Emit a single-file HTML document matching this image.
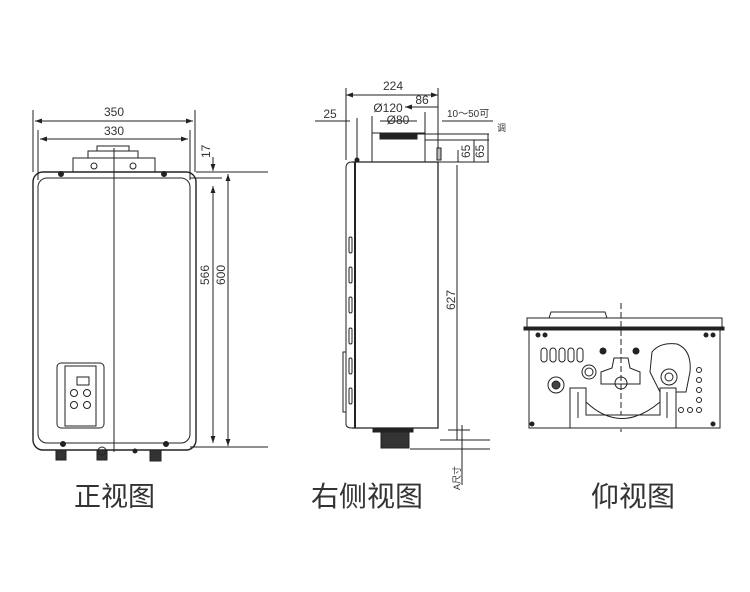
<!DOCTYPE html>
<html><head><meta charset="utf-8"><style>
body{margin:0;background:#fff;width:750px;height:592px;overflow:hidden}
svg{display:block}
text{font-family:"Liberation Sans","Noto Sans CJK SC",sans-serif;fill:#333}
</style></head><body>
<svg width="750" height="592" viewBox="0 0 750 592" stroke="#222" fill="none" stroke-width="1">
<defs><marker id="a" viewBox="0 0 10 10" refX="10" refY="5" markerWidth="7" markerHeight="7" orient="auto-start-reverse"><path d="M0,1.5L10,5L0,8.5z" fill="#222" stroke="none"/></marker></defs>
<!-- FRONT VIEW -->
<line x1="33" y1="110" x2="33" y2="172"/><line x1="195" y1="110" x2="195" y2="172"/>
<line x1="38" y1="130" x2="38" y2="180"/><line x1="190" y1="130" x2="190" y2="180"/>
<line x1="35" y1="121" x2="193" y2="121" marker-start="url(#a)" marker-end="url(#a)"/>
<line x1="40" y1="139" x2="188" y2="139" marker-start="url(#a)" marker-end="url(#a)"/>
<text x="114" y="116" font-size="12" text-anchor="middle" stroke="none">350</text>
<text x="114" y="135" font-size="12" text-anchor="middle" stroke="none">330</text>
<rect x="33" y="172" width="163" height="278" rx="10" stroke-width="1.4"/>
<rect x="38" y="178" width="152" height="265" rx="9"/>
<line x1="114" y1="148" x2="114" y2="452"/>
<rect x="73" y="158" width="82" height="14"/><rect x="88" y="151" width="50" height="7"/><rect x="97" y="146" width="32" height="5"/>
<circle cx="94" cy="166" r="3"/><circle cx="133" cy="166" r="3"/>
<circle cx="61" cy="174" r="2.5" fill="#222"/><circle cx="164" cy="174" r="2.5" fill="#222"/>
<line x1="196" y1="172" x2="268" y2="172"/><line x1="190" y1="178" x2="222" y2="178"/><line x1="190" y1="447" x2="268" y2="447"/>
<line x1="213" y1="157" x2="213" y2="171" marker-end="url(#a)"/>
<text transform="translate(210,158) rotate(-90)" font-size="12" stroke="none">17</text>
<line x1="213" y1="186" x2="213" y2="443" marker-start="url(#a)" marker-end="url(#a)"/>
<line x1="228" y1="174" x2="228" y2="446" marker-start="url(#a)" marker-end="url(#a)"/>
<text transform="translate(209,285) rotate(-90)" font-size="12" stroke="none">566</text>
<text transform="translate(225,285) rotate(-90)" font-size="12" stroke="none">600</text>
<rect x="57" y="363" width="47" height="65" rx="4"/><rect x="65" y="366" width="31" height="60"/>
<rect x="77" y="377" width="12" height="8"/>
<circle cx="74" cy="393" r="3.5"/><circle cx="87" cy="393" r="3.5"/><circle cx="74" cy="405" r="3.5"/><circle cx="87" cy="405" r="3.5"/>
<circle cx="63" cy="444" r="2.5" fill="#222"/><circle cx="166" cy="444" r="2.5" fill="#222"/>
<rect x="56" y="450" width="10" height="10" fill="#333"/><rect x="97" y="450" width="10" height="10" fill="#333"/><circle cx="102" cy="451" r="4"/>
<rect x="150" y="450" width="11" height="11" fill="#333"/><circle cx="135" cy="451" r="2" fill="#222"/>
<!-- SIDE VIEW -->
<line x1="346" y1="88" x2="346" y2="160"/><line x1="438" y1="88" x2="438" y2="160"/>
<line x1="346" y1="95" x2="438" y2="95" marker-start="url(#a)" marker-end="url(#a)"/>
<text x="393" y="90" font-size="12" text-anchor="middle" stroke="none">224</text>
<line x1="405" y1="107" x2="438" y2="107" marker-start="url(#a)"/>
<text x="422" y="104" font-size="12" text-anchor="middle" stroke="none">86</text>
<text x="388" y="112" font-size="12" text-anchor="middle" stroke="none">Ø120</text>
<line x1="372" y1="116" x2="372" y2="133"/><line x1="425" y1="112" x2="425" y2="133"/>
<line x1="380" y1="121" x2="417" y2="121"/>
<text x="398" y="124" font-size="12" text-anchor="middle" stroke="none">Ø80</text>
<line x1="315" y1="121" x2="350" y2="121"/>
<text x="330" y="118" font-size="12" text-anchor="middle" stroke="none">25</text>
<line x1="357" y1="118" x2="357" y2="160"/>
<line x1="442" y1="121" x2="493" y2="121"/>
<text x="447" y="117" font-size="10" stroke="none">10～50可</text>
<text x="497" y="131" font-size="9" stroke="none">调</text>
<rect x="372" y="133" width="53" height="29"/><rect x="380" y="133" width="37" height="6" fill="#222"/>
<line x1="417" y1="134" x2="489" y2="134"/><line x1="425" y1="140" x2="489" y2="140"/>
<line x1="438" y1="162" x2="489" y2="162"/><line x1="458" y1="150" x2="458" y2="162"/>
<line x1="474" y1="140" x2="474" y2="162"/><line x1="488" y1="134" x2="488" y2="162"/>
<text transform="translate(470,158) rotate(-90)" font-size="12" stroke="none">65</text>
<text transform="translate(484,158) rotate(-90)" font-size="12" stroke="none">65</text>
<rect x="437" y="148" width="4" height="12" fill="#bbb"/>
<path d="M352,162 L438,162 L438,428 L352,428" stroke-width="1.3"/>
<path d="M355,162 L355,428" stroke-width="2"/>
<path d="M352,162 Q346,162 346,168 L346,424 Q346,428 352,428"/>
<circle cx="357" cy="160" r="2" fill="#222"/>
<g><rect x="349" y="237" width="3" height="16" rx="1.5"/><rect x="349" y="267" width="3" height="16" rx="1.5"/><rect x="349" y="297" width="3" height="16" rx="1.5"/><rect x="349" y="328" width="3" height="16" rx="1.5"/><rect x="349" y="358" width="3" height="16" rx="1.5"/><rect x="349" y="388" width="3" height="16" rx="1.5"/></g>
<rect x="343" y="352" width="3" height="60"/>
<line x1="457" y1="165" x2="457" y2="440"/>
<text transform="translate(455,310) rotate(-90)" font-size="12" stroke="none">627</text>
<rect x="373" y="428" width="40" height="4" fill="#222"/><rect x="381" y="432" width="28" height="16" fill="#333"/>
<line x1="448" y1="430" x2="470" y2="430"/><line x1="440" y1="440" x2="490" y2="440"/><line x1="410" y1="449" x2="490" y2="449"/>
<line x1="462" y1="425" x2="462" y2="485"/>
<text transform="translate(460,490) rotate(-90)" font-size="9" stroke="none">A尺寸</text>
<!-- BOTTOM VIEW -->
<path d="M549,318 L551,312 L605,312 L607,318"/>
<rect x="527" y="318" width="195" height="10"/>
<rect x="524" y="327" width="200" height="3" fill="#222"/>
<rect x="529" y="330" width="191" height="98"/>
<line x1="621" y1="303" x2="621" y2="432" stroke-dasharray="6,3"/>
<g fill="#222"><circle cx="538" cy="335" r="2"/><circle cx="545" cy="335" r="2"/><circle cx="706" cy="335" r="2"/><circle cx="713" cy="335" r="2"/><circle cx="532" cy="424" r="2"/><circle cx="713" cy="424" r="2"/><circle cx="603" cy="351" r="3"/><circle cx="636" cy="351" r="3"/></g>
<g><rect x="541" y="348" width="6" height="14" rx="3"/><rect x="550" y="348" width="6" height="14" rx="3"/><rect x="559" y="348" width="6" height="14" rx="3"/><rect x="568" y="348" width="6" height="14" rx="3"/><rect x="577" y="348" width="6" height="14" rx="3"/></g>
<circle cx="589" cy="372" r="7"/><circle cx="589" cy="372" r="4"/>
<circle cx="556" cy="385" r="8"/><circle cx="556" cy="385" r="4" fill="#444"/>
<path d="M601,372 L612,368 L614,358 L628,358 L630,368 L640,372 L640,384 L601,384z"/><circle cx="621" cy="383" r="6"/>
<path d="M652,352 Q660,342 677,344 Q692,350 690,372 L686,392 L660,392 L650,372z"/>
<circle cx="669" cy="377" r="8"/><circle cx="669" cy="377" r="4"/>
<path d="M570,388 L570,428 L676,428 L676,388 L660,388 L660,415 L586,415 L586,388z" fill="#fff"/>
<path d="M586,402 Q621,435 660,402"/>
<line x1="578" y1="392" x2="578" y2="418"/><line x1="667" y1="392" x2="667" y2="418"/>
<g><circle cx="699" cy="370" r="2.5"/><circle cx="699" cy="380" r="2.5"/><circle cx="699" cy="390" r="2.5"/><circle cx="699" cy="400" r="2.5"/><circle cx="699" cy="410" r="2.5"/><circle cx="690" cy="410" r="2.5"/><circle cx="681" cy="410" r="2.5"/></g>
<!-- TITLES -->
<text x="74" y="506" font-size="27" stroke="none">正视图</text>
<text x="311" y="506" font-size="28" stroke="none">右侧视图</text>
<text x="591" y="506" font-size="28" stroke="none">仰视图</text>
</svg>
</body></html>
